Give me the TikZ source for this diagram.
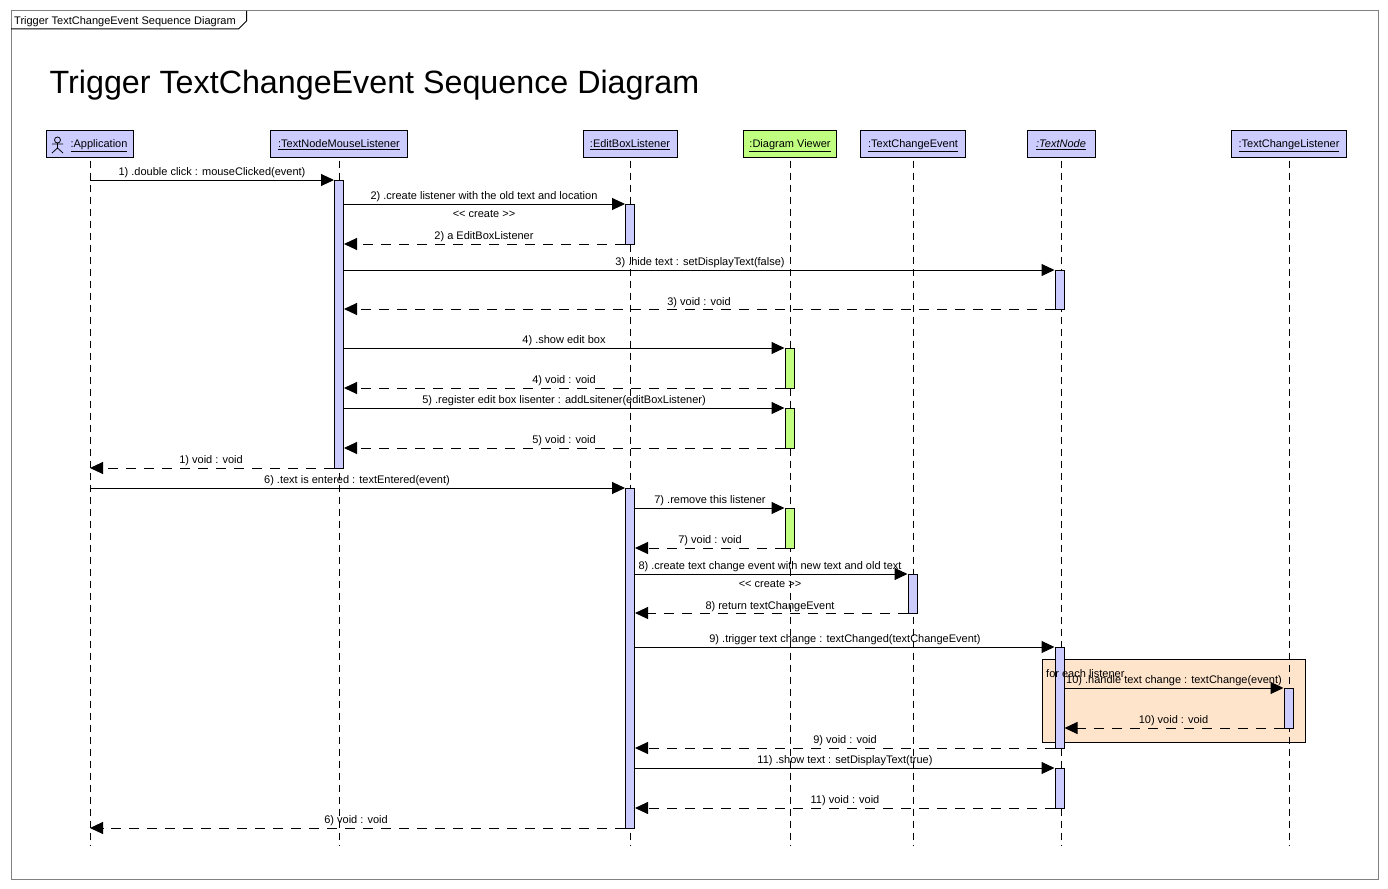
\documentclass[tikz,border=0pt]{standalone}
\usepackage{fontspec}
\setmainfont{Liberation Sans}
\usetikzlibrary{arrows.meta}
\definecolor{barblue}{HTML}{CCCCFF}
\definecolor{bargreen}{HTML}{C0FF80}
\definecolor{loopfill}{HTML}{FFE4CC}
\definecolor{framegray}{HTML}{808080}
\tikzset{
  x=1pt,y=-1pt,
  every node/.style={font=\fontsize{11}{12}\selectfont},
  head/.style={draw=black,line width=1pt,minimum height=27pt,inner sep=0pt,fill=barblue,text height=9pt,text depth=1.5pt},
  bar/.style={draw=black,line width=1pt,inner sep=0pt,minimum width=9pt},
  lifeline/.style={black,line width=1pt,dash pattern=on 7pt off 5pt},
  msg/.style={black,line width=1pt,-{Triangle[length=13pt,width=12pt]}},
  ret/.style={msg,dash pattern=on 10pt off 8pt},
  lbl/.style={inner sep=0pt,anchor=center,text height=10pt,text depth=2pt},
}
% name, center x, y1, y2, fill
\newcommand{\barnode}[5]{\node[bar,fill=#5,minimum height=#4pt-#3pt] (#1) at (#2,{(#3+#4)/2}) {};}
% style, start, end, y, label x, label y, label
\newcommand{\msgline}[7]{\draw[#1] (#2 |- 0,#4) -- (#3 |- 0,#4);
  \node[lbl] at (#5,#6) {#7};}
\begin{document}
\begin{tikzpicture}
\useasboundingbox (0,0) rectangle (1388,888);
\fill[white] (0,0) rectangle (1388,888);
% frame
\node[draw=framegray,line width=1pt,minimum width=1367pt,minimum height=868pt,inner sep=0pt] (frame) at (694.5,445) {};
\coordinate (tabA) at (246.5,11);
\coordinate (tabB) at (246.5,21);
\coordinate (tabC) at (238.5,29);
\coordinate (tabD) at (11,29);
\draw[black,line width=1pt] (tabA) -- (tabB) -- (tabC) -- (tabD);
\node[lbl,anchor=west] (tabtext) at (14,20.5) {Trigger TextChangeEvent Sequence Diagram};
\node[inner sep=0pt,anchor=west,font=\fontsize{32.25}{36}\selectfont] (title) at (49.5,85) {Trigger TextChangeEvent Sequence Diagram};
% loop box
\node[draw=black,line width=1pt,fill=loopfill,minimum width=263pt,minimum height=83pt,inner sep=0pt] (loop) at (1173.5,700.5) {};
% heads
\node[head,minimum width=87pt] (app) at (90,143.5) {\hspace{18pt}\underline{:Application}};
\node[head,minimum width=137pt] (tnml) at (339,143.5) {\underline{:TextNodeMouseListener}};
\node[head,minimum width=94pt] (ebl) at (630,143.5) {\underline{:EditBoxListener}};
\node[head,minimum width=93pt,fill=bargreen] (dv) at (790,143.5) {\underline{:Diagram Viewer}};
\node[head,minimum width=105pt] (tce) at (913,143.5) {\underline{:TextChangeEvent}};
\node[head,minimum width=68pt] (tn) at (1061,143.5) {\underline{\itshape :TextNode}};
\node[head,minimum width=115pt] (tcl) at (1289,143.5) {\underline{:TextChangeListener}};
% actor icon
\coordinate (actor) at (57.5,140);
\coordinate (hip) at (57.5,148);
\coordinate (armL) at (52,144);
\coordinate (armR) at (63,144);
\coordinate (legL) at (52,153);
\coordinate (legR) at (63,153);
\draw[black,line width=.8pt] (actor) circle (3pt);
\draw[black,line width=.8pt] (57.5,143) -- (hip) -- (legL) (hip) -- (legR) (armL) -- (armR);
% lifelines
\foreach \n in {app,tnml,ebl,dv,tce,tn,tcl}{
  \coordinate (\n end) at (\n.south |- 0,846);
  \draw[lifeline] ([yshift=-3pt]\n.south) -- (\n end);
}
% activation bars
\barnode{a1}{339}{180}{468}{barblue}
\barnode{e1}{630}{204}{244}{barblue}
\barnode{n1}{1059.5}{270}{309}{barblue}
\barnode{v1}{789.5}{348}{388}{bargreen}
\barnode{v2}{789.5}{408}{448}{bargreen}
\barnode{e2}{630}{488}{828}{barblue}
\barnode{v3}{789.5}{508}{548}{bargreen}
\barnode{c1}{912.5}{574}{613}{barblue}
\barnode{n2}{1059.5}{647}{748}{barblue}
\barnode{l1}{1288.5}{688}{728}{barblue}
\barnode{n3}{1059.5}{768}{808}{barblue}
% messages
\msgline{msg}{app.south}{a1.west}{180}{212}{171}{1) .double click : mouseClicked(event)}
\msgline{msg}{a1.east}{e1.west}{204}{484}{195}{2) .create listener with the old text and location}
\node[lbl] (cr1) at (484,213) {<{}< create >{}>};
\msgline{ret}{e1.west}{a1.east}{244}{484}{235}{2) a EditBoxListener}
\msgline{msg}{a1.east}{n1.west}{270}{700}{261}{3) .hide text : setDisplayText(false)}
\msgline{ret}{n1.west}{a1.east}{309}{699}{301}{3) void : void}
\msgline{msg}{a1.east}{v1.west}{348}{564}{339}{4) .show edit box}
\msgline{ret}{v1.west}{a1.east}{388}{564}{379}{4) void : void}
\msgline{msg}{a1.east}{v2.west}{408}{564}{399}{5) .register edit box lisenter : addLsitener(editBoxListener)}
\msgline{ret}{v2.west}{a1.east}{448}{564}{439}{5) void : void}
\msgline{ret}{a1.west}{app.south}{468}{211}{459}{1) void :  void}
\msgline{msg}{app.south}{e2.west}{488}{357}{479}{6) .text is entered : textEntered(event)}
\msgline{msg}{e2.east}{v3.west}{508}{710}{499}{7) .remove this listener}
\msgline{ret}{v3.west}{e2.east}{548}{710}{539}{7) void : void}
\msgline{msg}{e2.east}{c1.west}{574}{770}{565}{8) .create text change event with new text and old text}
\node[lbl] (cr2) at (770,583) {<{}< create >{}>};
\msgline{ret}{c1.west}{e2.east}{613}{770}{605}{8) return textChangeEvent}
\msgline{msg}{e2.east}{n2.west}{647}{845}{638}{9) .trigger text change : textChanged(textChangeEvent)}
\node[lbl,anchor=west] (looplabel) at (1046,673) {for each listener};
\msgline{msg}{n2.east}{l1.west}{688}{1174}{679}{10) .handle text change : textChange(event)}
\msgline{ret}{l1.west}{n2.east}{728}{1173.5}{719}{10) void : void}
\msgline{ret}{n2.west}{e2.east}{748}{845}{739}{9) void : void}
\msgline{msg}{e2.east}{n3.west}{768}{845}{759}{11) .show text : setDisplayText(true)}
\msgline{ret}{n3.west}{e2.east}{808}{845}{799}{11) void : void}
\msgline{ret}{e2.west}{app.south}{828}{356}{819}{6) void : void}
\end{tikzpicture}
\end{document}
